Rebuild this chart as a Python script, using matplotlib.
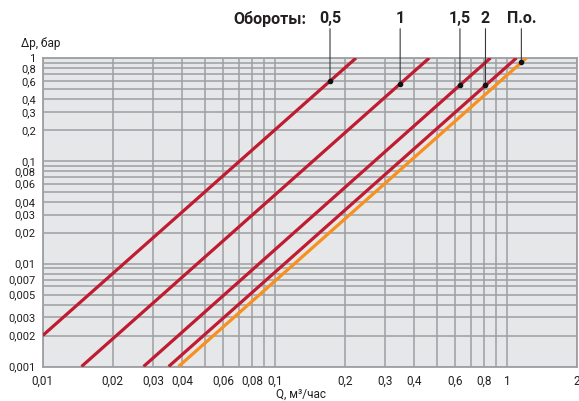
import numpy as np
import matplotlib
matplotlib.use("Agg")
import matplotlib.pyplot as plt
from matplotlib.ticker import FixedLocator, LogLocator, NullFormatter

plt.rcParams['font.family'] = ['Roboto', 'DejaVu Sans']

# Data: each line is straight on log-log axes, given by its two end points
series = ['0,5', '1', '1,5', '2', 'П.о.']
q_start = [0.01, 0.0147, 0.0272, 0.0349, 0.0385]
dp_start = [0.002, 0.001, 0.001, 0.001, 0.001]
q_end = [0.224, 0.463, 0.85, 1.10, 1.214]
dp_end = [1.0, 1.0, 1.0, 1.0, 1.0]
colors = ['#BF1B31', '#BF1B31', '#BF1B31', '#BF1B31', '#F7901E']

# where the callouts touch the lines
q_marker = [0.173, 0.347, 0.628, 0.809, 1.155]

x_ticks = [0.01, 0.02, 0.03, 0.04, 0.06, 0.08, 0.1, 0.2, 0.3, 0.4, 0.6, 0.8, 1, 2]
y_ticks = [0.001, 0.002, 0.003, 0.005, 0.007, 0.01, 0.02, 0.03, 0.04, 0.06, 0.08,
           0.1, 0.2, 0.3, 0.4, 0.6, 0.8, 1]


def fmt(v):
    s = np.format_float_positional(v, trim='-')
    return s.replace('.', ',')


fig = plt.figure(figsize=(5.79, 4.01), dpi=100)
ax = fig.add_axes([42.7 / 579, 1 - 366.5 / 401, (576.7 - 42.7) / 579, (366.5 - 58) / 401])
ax.set_facecolor('#E6E7E8')
ax.set_xscale('log')
ax.set_yscale('log')
ax.set_xlim(0.01, 2)
ax.set_ylim(0.001, 1)

grid_color = '#9D9FA2'
ax.xaxis.set_major_locator(FixedLocator(x_ticks))
ax.yaxis.set_major_locator(FixedLocator(y_ticks))
ax.xaxis.set_minor_locator(LogLocator(base=10, subs=np.arange(1, 10)))
ax.yaxis.set_minor_locator(LogLocator(base=10, subs=np.arange(1, 10)))
ax.xaxis.set_minor_formatter(NullFormatter())
ax.yaxis.set_minor_formatter(NullFormatter())
ax.set_xticklabels([fmt(v) for v in x_ticks])
ax.set_yticklabels([fmt(v) for v in y_ticks])
ax.tick_params(which='both', length=0, colors='#231F20')
ax.tick_params(axis='x', pad=6, labelsize=8.5)
ax.tick_params(axis='y', pad=5, labelsize=8)
ax.grid(True, which='both', color=grid_color, lw=1.1)
ax.set_axisbelow(True)
for sp in ax.spines.values():
    sp.set_color(grid_color)
    sp.set_linewidth(1.3)

for i in range(len(series)):
    ax.plot([q_start[i], q_end[i]], [dp_start[i], dp_end[i]],
            color=colors[i], lw=2.3, solid_capstyle='butt', zorder=3)

# callouts
trans = ax.get_xaxis_transform()
for i in range(len(series)):
    lq = np.log10([q_start[i], q_end[i]])
    ld = np.log10([dp_start[i], dp_end[i]])
    dp = 10 ** np.interp(np.log10(q_marker[i]), lq, ld)
    ax.annotate('', xy=(q_marker[i], dp), xytext=(q_marker[i], 1.095),
                xycoords='data', textcoords=trans,
                arrowprops=dict(arrowstyle='-', lw=0.8, color='#3A3A3A',
                                shrinkA=0, shrinkB=0), zorder=4)
    ax.plot(q_marker[i], dp, 'o', ms=3, color='#111111', zorder=5)
    ax.text(q_marker[i], 1.127, series[i], transform=trans, ha='center',
            va='center', fontsize=11.5, fontweight='semibold', color='#231F20')

ax.text(0.493, 1.127, 'Обороты:', transform=ax.transAxes, ha='right',
        va='center', fontsize=11.5, fontweight='semibold', color='#231F20')

fig.text(20.7 / 579, 1 - 44 / 401, 'Δp, бар', ha='left', va='center',
         fontsize=8.5, color='#231F20')
fig.text(301 / 579, 1 - 394 / 401, 'Q, м³/час', ha='center', va='center',
         fontsize=8.5, color='#231F20')

fig.savefig('out.png', dpi=100)
